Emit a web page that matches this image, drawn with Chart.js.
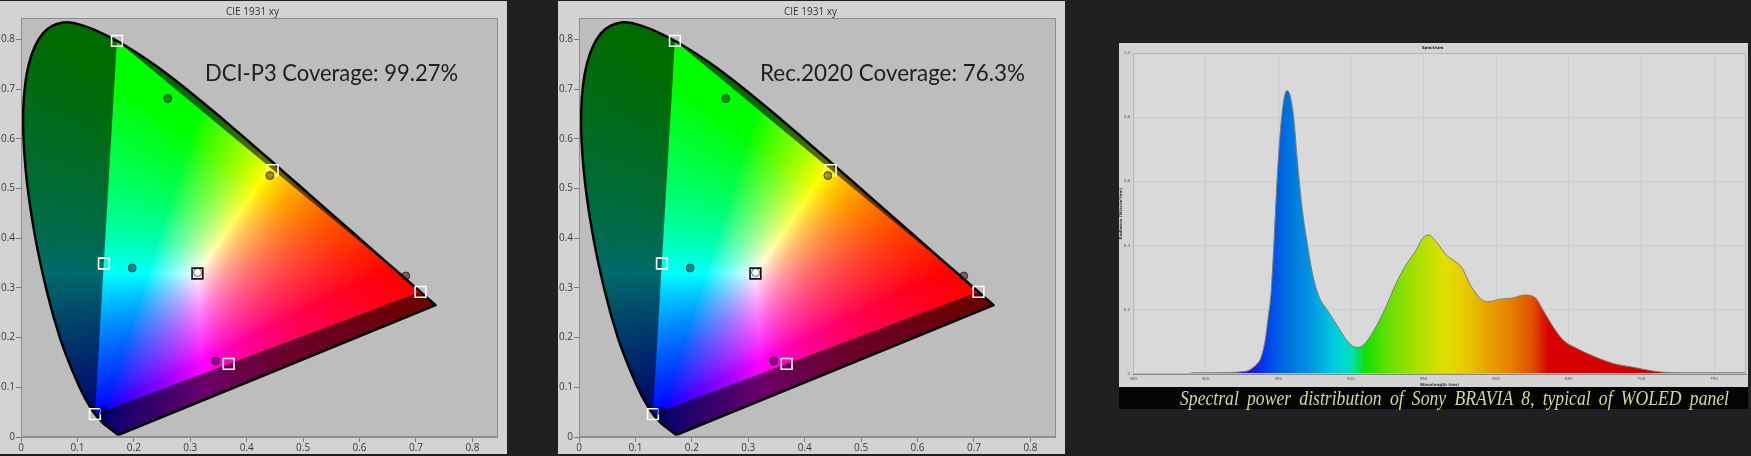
<!DOCTYPE html>
<html><head><meta charset="utf-8">
<script src="https://cdn.jsdelivr.net/npm/chart.js@4.4.1/dist/chart.umd.min.js"></script>
<style>
html,body{margin:0;padding:0;background:#202020;width:1751px;height:456px;overflow:hidden;}
.panel{position:absolute;background:#d3d3d3;}
.panel canvas{display:block;}
.cov{position:absolute;font-family:Lato,'Open Sans',sans-serif;font-size:23px;line-height:28px;color:#1e1e1e;white-space:nowrap;transform-origin:0 50%;}
#capband{position:absolute;left:1119px;top:387px;width:629px;height:22px;background:#050505;}
#cap{position:absolute;left:1180px;top:386px;height:24px;line-height:24px;font-family:'Liberation Serif','DejaVu Serif',serif;font-style:italic;font-size:21px;color:#d8d49a;white-space:nowrap;transform-origin:0 50%;}
</style></head><body>
<div class="panel" style="left:0;top:1px;width:507px;height:453px"><canvas id="c1"></canvas></div>
<div class="cov" data-w="253" style="left:205px;top:58px">DCI-P3 Coverage: 99.27%</div>
<div class="panel" style="left:558px;top:1px;width:507px;height:453px"><canvas id="c2"></canvas></div>
<div class="cov" data-w="265" style="left:760px;top:58px">Rec.2020 Coverage: 76.3%</div>
<div class="panel" style="left:1119px;top:43px;width:629px;height:344px;background:#d4d4d4"><canvas id="c3"></canvas></div>
<div id="capband"></div>
<div id="cap" data-w="549" data-s="0.84">Spectral power distribution of Sony BRAVIA 8, typical of WOLED panel</div>
<script>
// ---------- CIE 1931 spectral locus (380-700 nm, 5 nm) ----------
const locusX = [0.1741,0.1740,0.1738,0.1736,0.1733,0.1730,0.1726,0.1721,0.1714,0.1703,0.1689,0.1669,0.1644,0.1611,0.1566,0.1510,0.1440,0.1355,0.1241,0.1096,0.0913,0.0687,0.0454,0.0235,0.0082,0.0039,0.0139,0.0389,0.0743,0.1142,0.1547,0.1929,0.2296,0.2658,0.3016,0.3373,0.3731,0.4087,0.4441,0.4788,0.5125,0.5448,0.5752,0.6029,0.6270,0.6482,0.6658,0.6801,0.6915,0.7006,0.7079,0.7140,0.7190,0.7230,0.7260,0.7283,0.7300,0.7311,0.7320,0.7327,0.7334,0.7340,0.7344,0.7346,0.7347];
const locusY = [0.0050,0.0050,0.0049,0.0049,0.0048,0.0048,0.0048,0.0048,0.0051,0.0058,0.0069,0.0086,0.0109,0.0138,0.0177,0.0227,0.0297,0.0399,0.0578,0.0868,0.1327,0.2007,0.2950,0.4127,0.5384,0.6548,0.7502,0.8120,0.8338,0.8262,0.8059,0.7816,0.7543,0.7243,0.6923,0.6589,0.6245,0.5896,0.5547,0.5202,0.4866,0.4544,0.4242,0.3965,0.3725,0.3514,0.3340,0.3197,0.3083,0.2993,0.2920,0.2859,0.2809,0.2770,0.2740,0.2717,0.2700,0.2689,0.2680,0.2673,0.2666,0.2660,0.2656,0.2654,0.2653];
const cieTickValues = [0,0.1,0.2,0.3,0.4,0.5,0.6,0.7,0.8];
const cieTickLabels = ['0','0.1','0.2','0.3','0.4','0.5','0.6','0.7','0.8'];
// target squares: G, Y, R, C, M, B, W
const targetX = [0.170,0.446,0.708,0.147,0.368,0.131,0.3127];
const targetY = [0.797,0.537,0.292,0.349,0.147,0.046,0.3290];
// measured circles: G, Y, R, C, M, B, W
const measuredX = [0.260,0.441,0.682,0.197,0.345,0.146,0.313];
const measuredY = [0.681,0.526,0.324,0.340,0.153,0.052,0.331];
// gamut triangle (G, R, B of targets)
const gamutIdx = [0,2,5,0];

// ---------- Spectrum ----------
const specNm  = [350,385,392,400,410,418,425,430,435,438,441,443,445,447,449.3,451.7,454,456.2,458.6,460.8,463.1,466.6,470,473.5,478.1,483.8,489.6,495.4,501.1,505.2,510.3,517.2,524.2,531.1,538,544.9,549.5,553.6,558.7,565.6,570.2,576,582.9,589.8,594.3,602.4,610.5,619.7,626.6,632.3,639.2,646.1,655.4,666.8,680.6,694.5,708.3,722.1,730,772];
const specVal = [0,0,0.004,0.004,0.004,0.005,0.007,0.012,0.03,0.05,0.106,0.175,0.251,0.407,0.615,0.770,0.859,0.883,0.859,0.791,0.667,0.511,0.407,0.314,0.241,0.199,0.158,0.116,0.087,0.083,0.098,0.147,0.210,0.282,0.340,0.386,0.423,0.433,0.412,0.371,0.355,0.334,0.272,0.233,0.225,0.233,0.236,0.246,0.239,0.199,0.147,0.106,0.080,0.056,0.033,0.021,0.009,0.004,0.004,0.004];
const specTickNm = [350,400,450,500,550,600,650,700,750];
const specYTicks = [0,0.2,0.4,0.6,0.8,1.0];
const specYLabels = ['0','0.2','0.4','0.6','0.8','1.0'];
const specStopNm = [395,412,420,432,442,456,470,484,494,502,510,525,545,565,580,595,610,625,636,700,722,728];
const specStopColor = ['#a0a0a8','#6a3ab0','#4a00d8','#2010e8','#0040f0','#0070e0','#0090e0','#00bde0','#00d8d8','#00e0a0','#12e000','#62e000','#a8e000','#e2e000','#e8c800','#e8a000','#e88000','#e05000','#d80000','#d20000','#c80000','#a8a8a8'];

// ---------- helpers ----------
function xyToRgb(x, y){
  if (y <= 0.0005) return [0,0,0];
  const X = x / y, Z = (1 - x - y) / y;
  let r = 3.2406*X - 1.5372 - 0.4986*Z;
  let g = -0.9689*X + 1.8758 + 0.0415*Z;
  let b = 0.0557*X - 0.2040 + 1.0570*Z;
  r = Math.max(r,0); g = Math.max(g,0); b = Math.max(b,0);
  const m = Math.max(r,g,b) || 1;
  return [Math.pow(r/m,0.8), Math.pow(g/m,0.8), Math.pow(b/m,0.8)];
}
function fieldPattern(chart, bright){
  const a = chart.chartArea;
  if (!a || !chart.scales.x || !chart.scales.y) return 'rgba(0,0,0,0)';
  const key = (bright?'b':'d') + [a.left,a.top,a.right,a.bottom].join(',');
  chart.$fields = chart.$fields || {};
  if (chart.$fields[key]) return chart.$fields[key];
  const xs = chart.scales.x, ys = chart.scales.y;
  const W = Math.ceil(chart.width), H = Math.ceil(chart.height);
  const off = document.createElement('canvas'); off.width = W; off.height = H;
  const octx = off.getContext('2d'); const img = octx.createImageData(W, H);
  const k = bright ? 1 : 0.42;
  for (let py = Math.max(0,Math.floor(a.top)); py < Math.min(H,Math.ceil(a.bottom)); py++){
    const yv = ys.getValueForPixel(py + 0.5);
    for (let px = Math.max(0,Math.floor(a.left)); px < Math.min(W,Math.ceil(a.right)); px++){
      const xv = xs.getValueForPixel(px + 0.5);
      const c = xyToRgb(xv, yv);
      const i = (py*W + px)*4;
      img.data[i] = 255*k*c[0]; img.data[i+1] = 255*k*c[1]; img.data[i+2] = 255*k*c[2]; img.data[i+3] = 255;
    }
  }
  octx.putImageData(img, 0, 0);
  const pat = chart.ctx.createPattern(off, 'no-repeat');
  chart.$fields[key] = pat;
  return pat;
}
const plotBg = {
  id: 'plotBg',
  beforeDraw(chart, args, opts){
    const a = chart.chartArea, ctx = chart.ctx;
    ctx.save(); ctx.fillStyle = opts.color; ctx.fillRect(a.left, a.top, a.right-a.left, a.bottom-a.top); ctx.restore();
  },
  afterDraw(chart, args, opts){
    const a = chart.chartArea, ctx = chart.ctx;
    ctx.save(); ctx.strokeStyle = opts.border; ctx.lineWidth = 1;
    ctx.strokeRect(Math.round(a.left)+0.5, Math.round(a.top)+0.5, Math.round(a.right-a.left)-1, Math.round(a.bottom-a.top)-1);
    ctx.restore();
  }
};

function makeCie(id){
  const locusPts = locusX.map((x,i)=>({x, y: locusY[i]}));
  locusPts.push({x: locusX[0], y: locusY[0]});
  const triPts = gamutIdx.map(i=>({x: targetX[i], y: targetY[i]}));
  const tgtPts = targetX.map((x,i)=>({x, y: targetY[i]}));
  const mesPts = measuredX.map((x,i)=>({x, y: measuredY[i]}));
  const tickFont = {family:'Open Sans', size:10};
  return new Chart(document.getElementById(id), {
    type: 'line',
    data: { datasets: [
      { label:'locus area', data: locusPts, order:5, fill:'shape', tension:0.35, pointRadius:0,
        borderColor:'rgba(0,0,0,0)', borderWidth:1, backgroundColor: c => fieldPattern(c.chart, false) },
      { label:'Rec.2020 gamut', data: triPts, order:4, fill:'shape', tension:0, pointRadius:0,
        borderColor:'rgba(0,0,0,0)', borderWidth:1, backgroundColor: c => fieldPattern(c.chart, true) },
      { label:'spectral locus', data: locusPts, order:3, fill:false, tension:0.35, pointRadius:0,
        borderColor:'#050505', borderWidth:2.5 },
      { label:'targets', data: tgtPts, order:2, showLine:false, pointStyle:'rect', pointRadius:7.6,
        pointBackgroundColor:'rgba(0,0,0,0)', pointBorderWidth:1.6,
        pointBorderColor: ['#ffffff','#ffffff','#ffffff','#ffffff','#ffffff','#ffffff','#111111'] },
      { label:'measured', data: mesPts, order:1, showLine:false, pointStyle:'circle', pointRadius:4,
        pointBackgroundColor: ['rgba(20,40,20,0.5)','rgba(40,40,0,0.5)','rgba(40,0,0,0.5)','rgba(0,30,40,0.5)','rgba(40,0,40,0.5)','rgba(0,0,40,0.5)','rgba(255,255,255,0.35)'],
        pointBorderColor:'rgba(0,0,0,0.55)', pointBorderWidth:1 }
    ]},
    options: {
      responsive:true, maintainAspectRatio:false, animation:false, events:[],
      layout:{ padding:{left:0,right:2,top:0,bottom:0} },
      plugins:{
        legend:{display:false}, tooltip:{enabled:false},
        title:{display:true, text:'CIE 1931 xy', color:'#333', font:{family:'Open Sans', size:10, weight:'normal'}, padding:{top:5,bottom:0}},
        plotBg:{color:'#bdbdbd', border:'#8e8e8e'}
      },
      scales:{
        x:{ type:'linear', min:0, max:0.845,
            afterBuildTicks: s => { s.ticks = cieTickValues.map(v=>({value:v})); },
            afterFit: s => { s.height = 17; },
            ticks:{ callback:(v,i)=>cieTickLabels[i], color:'#3a3a3a', font:tickFont, padding:0, maxRotation:0, autoSkip:false },
            grid:{ drawOnChartArea:false, drawTicks:true, tickLength:5, color:'#7a7a7a' },
            border:{ display:true, color:'#8e8e8e' } },
        y:{ type:'linear', min:0, max:0.843,
            afterBuildTicks: s => { s.ticks = cieTickValues.map(v=>({value:v})); },
            afterFit: s => { s.width = 21; },
            ticks:{ callback:(v,i)=>cieTickLabels[i], color:'#3a3a3a', font:tickFont, padding:1, autoSkip:false },
            grid:{ drawOnChartArea:false, drawTicks:true, tickLength:5, color:'#7a7a7a' },
            border:{ display:true, color:'#8e8e8e' } }
      }
    },
    plugins:[plotBg]
  });
}
makeCie('c1');
makeCie('c2');

function specGradient(chart){
  const a = chart.chartArea;
  if (!a || !chart.scales.x) return 'rgba(0,0,0,0)';
  const xs = chart.scales.x;
  const g = chart.ctx.createLinearGradient(a.left, 0, a.right, 0);
  const w = a.right - a.left;
  specStopNm.forEach((nm,i)=>{
    let p = (xs.getPixelForValue(nm) - a.left) / w;
    p = Math.min(1, Math.max(0, p));
    g.addColorStop(p, specStopColor[i]);
  });
  return g;
}
const tiny = {family:'DejaVu Sans', size:4};
new Chart(document.getElementById('c3'), {
  type:'line',
  data:{ datasets:[{ label:'Spectrum', data: specNm.map((x,i)=>({x, y: specVal[i]})),
    fill:'origin', pointRadius:0, borderColor:'#7d8070', borderWidth:1, cubicInterpolationMode:'monotone',
    backgroundColor: c => specGradient(c.chart) }]},
  options:{
    responsive:true, maintainAspectRatio:false, animation:false, events:[],
    layout:{ padding:{left:0,right:2,top:0,bottom:0} },
    plugins:{
      legend:{display:false}, tooltip:{enabled:false},
      title:{display:true, text:'Spectrum', color:'#222', font:{family:'DejaVu Sans', size:4, weight:'bold'}, padding:{top:3,bottom:2.2}},
      plotBg:{color:'#d9d9d9', border:'#b8b8b8'}
    },
    scales:{
      x:{ type:'linear', min:350, max:772,
          afterBuildTicks: s => { s.ticks = specTickNm.map(v=>({value:v})); },
          afterFit: s => { s.height = 13; },
          ticks:{ color:'#555', font:tiny, padding:1, maxRotation:0, autoSkip:false },
          grid:{ color:'rgba(0,0,0,0.05)', tickLength:2 },
          border:{ color:'#8a8a8a' },
          title:{ display:true, text:'Wavelength (nm)', color:'#333', font:{family:'DejaVu Sans', size:4, weight:'bold'}, padding:0 } },
      y:{ type:'linear', min:0, max:1.0,
          afterBuildTicks: s => { s.ticks = specYTicks.map(v=>({value:v})); },
          afterFit: s => { s.width = 14; },
          ticks:{ callback:(v,i)=>specYLabels[i], color:'#555', font:tiny, padding:1, autoSkip:false },
          grid:{ color:'rgba(0,0,0,0.05)', tickLength:2 },
          border:{ color:'#8a8a8a' },
          title:{ display:true, text:'Radiance (W/sr/m²/nm)', color:'#333', font:{family:'DejaVu Sans', size:4, weight:'bold'}, padding:0 } }
    }
  },
  plugins:[plotBg]
});

function fitTexts(){
  document.querySelectorAll('.cov').forEach(el=>{
    el.style.transform = 'none';
    const w = el.getBoundingClientRect().width;
    const t = +el.dataset.w;
    if (w > 0) el.style.transform = 'scaleX(' + (t / w) + ')';
  });
  const cap = document.getElementById('cap');
  const s = +cap.dataset.s;
  cap.style.transform = 'none';
  cap.style.wordSpacing = '0px';
  const w = cap.getBoundingClientRect().width;
  const gaps = cap.textContent.split(' ').length - 1;
  const extra = (+cap.dataset.w / s - w) / gaps;
  cap.style.wordSpacing = extra + 'px';
  cap.style.transform = 'scaleX(' + s + ')';
}
fitTexts();
if (document.fonts && document.fonts.ready) document.fonts.ready.then(fitTexts);
</script>
</body></html>
